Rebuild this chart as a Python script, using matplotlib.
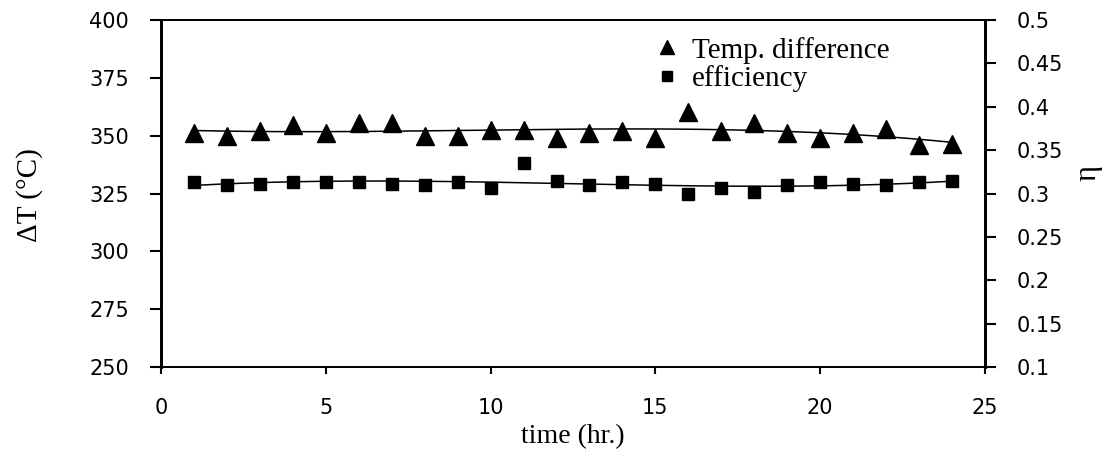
import numpy as np
import matplotlib
matplotlib.use("Agg")
import matplotlib.pyplot as plt

hours = list(range(1, 25))
temp_diff = [351.2, 349.7, 352.0, 354.8, 351.2, 355.6, 355.6, 349.7, 349.7, 352.6,
             352.6, 349.0, 351.2, 352.0, 349.0, 360.2, 352.0, 355.6, 351.2, 349.0,
             351.2, 352.9, 345.8, 346.5]
efficiency = [0.3130, 0.3102, 0.3115, 0.3130, 0.3127, 0.3130, 0.3115, 0.3098, 0.3127, 0.3069,
              0.3346, 0.3140, 0.3098, 0.3127, 0.3106, 0.2992, 0.3069, 0.3012, 0.3098, 0.3130,
              0.3115, 0.3098, 0.3130, 0.3140]
left_ticks = [250, 275, 300, 325, 350, 375, 400]
right_ticks = [0.1, 0.15, 0.2, 0.25, 0.3, 0.35, 0.4, 0.45, 0.5]
right_ticklabels = ["0.1", "0.15", "0.2", "0.25", "0.3", "0.35", "0.4", "0.45", "0.5"]
x_ticks = [0, 5, 10, 15, 20, 25]

W, H = 1103, 455
fig = plt.figure(figsize=(W / 100, H / 100), dpi=100)
ax = fig.add_axes([161 / W, 1 - 367 / H, (985 - 161) / W, (367 - 20) / H])
ax2 = ax.twinx()

x = np.array(hours, dtype=float)
t = np.array(temp_diff)
e = np.array(efficiency)

# trend lines (polynomial fits of the data)
pt = np.polyfit(x, t, 3)
pe = np.polyfit(x, e, 3)
xs = np.linspace(x.min(), x.max(), 200)
ax.plot(xs, np.polyval(pt, xs), color="black", lw=1.1, zorder=2)
ax2.plot(xs, np.polyval(pe, xs), color="black", lw=1.1, zorder=2)

h1, = ax.plot(x, t, linestyle="none", marker="^", ms=12.5, color="black",
              label="Temp. difference", zorder=3)
h2, = ax2.plot(x, e, linestyle="none", marker="s", ms=9, color="black",
               label="efficiency", zorder=3)

ax.set_xlim(0, 25)
ax.set_ylim(250, 400)
ax2.set_ylim(0.1, 0.5)
ax.set_xticks(x_ticks)
ax.set_yticks(left_ticks)
ax2.set_yticks(right_ticks)
ax2.set_yticklabels(right_ticklabels)

for lab in ax.get_xticklabels() + ax.get_yticklabels() + ax2.get_yticklabels():
    lab.set_fontfamily("DejaVu Sans")
    lab.set_fontsize(15)

ax.tick_params(axis="y", direction="out", length=8, width=1.5, pad=15)
ax.tick_params(axis="x", direction="out", length=5, width=1.5, pad=17)
ax2.tick_params(axis="y", direction="out", length=8, width=1.5, pad=15)

for a in (ax, ax2):
    a.spines["left"].set_linewidth(2.0)
    a.spines["right"].set_linewidth(2.0)
    a.spines["top"].set_linewidth(1.3)
    a.spines["bottom"].set_linewidth(1.3)

ax.set_ylabel("ΔT (°C)", fontfamily="Liberation Serif", fontsize=21)
ax.yaxis.label.set_va("center")
ax.yaxis.label.set_ha("center")
ax.yaxis.set_label_coords((30 - 161) / 824, (367 - 195) / 347)

ax2.set_ylabel("η", fontfamily="Liberation Serif", fontsize=22, rotation=90)
ax2.yaxis.label.set_va("center")
ax2.yaxis.label.set_ha("center")
ax2.yaxis.set_label_coords((1088 - 161) / 824, (367 - 173) / 347)

ax.set_xlabel("time (hr.)", fontfamily="Liberation Serif", fontsize=20)
ax.xaxis.label.set_va("center")
ax.xaxis.label.set_ha("center")
ax.xaxis.set_label_coords(0.5, (367 - 437) / 347)

leg = ax2.legend(handles=[h1, h2], loc="upper left",
                 bbox_to_anchor=((641 - 161) / 824, (367 - 22) / 347),
                 frameon=False, borderpad=0, handlelength=0.8, handletextpad=0.45,
                 labelspacing=0.05, markerscale=0.8,
                 prop=dict(family="Liberation Serif", size=21))

fig.savefig("out.png", dpi=100)
